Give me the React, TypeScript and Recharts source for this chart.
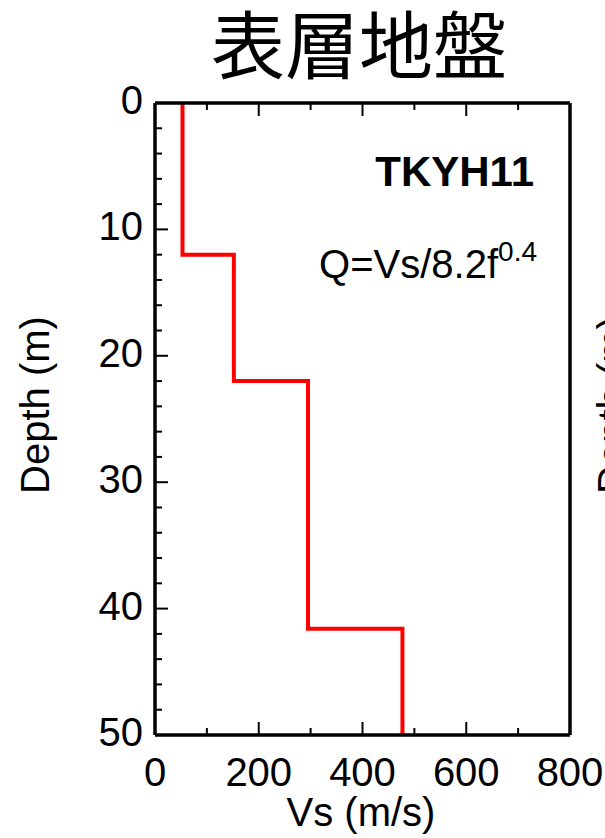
import React from "react";
import { LineChart, Line, XAxis, YAxis, Customized } from "recharts";

// Vs profile (step shaped): velocity in m/s, depth in m
const vsSteps = [53, 53, 152, 152, 295, 295, 477, 477];
const depthSteps = [0, 12, 12, 22, 22, 41.6, 41.6, 50];

const vsTicks = [0, 100, 200, 300, 400, 500, 600, 700, 800];
const depthTicks = [0, 2, 4, 6, 8, 10, 12, 14, 16, 18, 20, 22, 24, 26, 28, 30, 32, 34, 36, 38, 40, 42, 44, 46, 48, 50];

const title = "表層地盤";
const siteName = "TKYH11";

const data = vsSteps.map((vs, i) => ({ vs, depth: depthSteps[i] }));

const FONT = "Liberation Sans, Arial, sans-serif";
const TICK_FS = 40;
const MAJOR = 13;
const MINOR = 7;

const BottomTick = (props: any) => {
  const { x, y, payload } = props;
  const major = payload.value % 200 === 0;
  return (
    <g>
      <line x1={x} y1={y} x2={x} y2={y - (major ? MAJOR : MINOR)} stroke="#000" strokeWidth={2} />
      {major && (
        <text x={x} y={y + 51} textAnchor="middle" fontSize={TICK_FS} fontFamily={FONT} fill="#000">
          {payload.value}
        </text>
      )}
    </g>
  );
};

const TopTick = (props: any) => {
  const { x, y, payload } = props;
  const major = payload.value % 200 === 0;
  return <line x1={x} y1={y} x2={x} y2={y + (major ? MAJOR : MINOR)} stroke="#000" strokeWidth={2} />;
};

const LeftTick = (props: any) => {
  const { x, y, payload } = props;
  const major = payload.value % 10 === 0;
  return (
    <g>
      <line x1={x} y1={y} x2={x + (major ? MAJOR : MINOR)} y2={y} stroke="#000" strokeWidth={2} />
      {major && (
        <text x={x - 12} y={y + 11} textAnchor="end" fontSize={TICK_FS} fontFamily={FONT} fill="#000">
          {payload.value}
        </text>
      )}
    </g>
  );
};

const RightTick = (props: any) => {
  const { x, y, payload } = props;
  const major = payload.value % 10 === 0;
  return <line x1={x} y1={y} x2={x - (major ? MAJOR : MINOR)} y2={y} stroke="#000" strokeWidth={2} />;
};

const Texts = () => (
  <g fontFamily={FONT} fill="#000">
    <text x={359} y={73} textAnchor="middle" fontSize={74} fontFamily="Noto Sans CJK JP">
      {title}
    </text>
    <text x={534} y={186} textAnchor="end" fontSize={42} fontWeight="bold">
      {siteName}
    </text>
    <text x={537} y={278} textAnchor="end" fontSize={40}>
      Q=Vs/8.2f
      <tspan fontSize={28} dy={-17}>0.4</tspan>
    </text>
    <text x={361} y={826} textAnchor="middle" fontSize={40}>
      Vs (m/s)
    </text>
    <text x={35} y={405} textAnchor="middle" dominantBaseline="central" fontSize={40} transform="rotate(-90 35 405)">
      Depth (m)
    </text>
    <text x={612} y={405} textAnchor="middle" dominantBaseline="central" fontSize={40} transform="rotate(-90 612 405)">
      Depth (m)
    </text>
  </g>
);

const axisLine = { stroke: "#000", strokeWidth: 3.5 };

export default function App() {
  return (
    <div style={{ position: "absolute", left: 0, top: 0, background: "#fff" }}>
      <LineChart width={605} height={838} data={data} margin={{ top: 102, right: 0, bottom: 0, left: 55 }}>
        <XAxis
          xAxisId="b"
          type="number"
          dataKey="vs"
          domain={[0, 800]}
          ticks={vsTicks}
          interval={0}
          height={103}
          tickSize={0}
          tickMargin={0}
          tickLine={false}
          axisLine={axisLine}
          tick={BottomTick}
        />
        <XAxis
          xAxisId="t"
          orientation="top"
          type="number"
          dataKey="vs"
          domain={[0, 800]}
          ticks={vsTicks}
          interval={0}
          height={1}
          tickSize={0}
          tickMargin={0}
          tickLine={false}
          axisLine={axisLine}
          tick={TopTick}
        />
        <YAxis
          yAxisId="l"
          type="number"
          reversed
          domain={[0, 50]}
          ticks={depthTicks}
          interval={0}
          width={100}
          tickSize={0}
          tickMargin={0}
          tickLine={false}
          axisLine={axisLine}
          tick={LeftTick}
        />
        <YAxis
          yAxisId="r"
          orientation="right"
          type="number"
          reversed
          domain={[0, 50]}
          ticks={depthTicks}
          interval={0}
          width={35}
          tickSize={0}
          tickMargin={0}
          tickLine={false}
          axisLine={axisLine}
          tick={RightTick}
        />
        <Line
          xAxisId="b"
          yAxisId="l"
          dataKey="depth"
          type="linear"
          stroke="#ff0000"
          strokeWidth={4}
          dot={false}
          isAnimationActive={false}
        />
        <Customized component={Texts} />
      </LineChart>
    </div>
  );
}
